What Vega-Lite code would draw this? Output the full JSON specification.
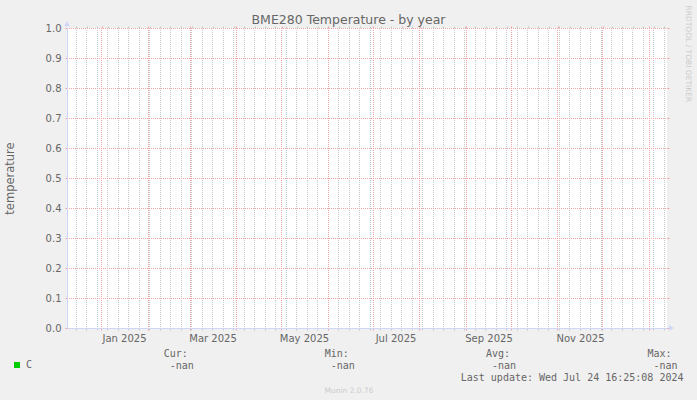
{
  "$schema": "https://vega.github.io/schema/vega-lite/v6.json",
  "width": 600,
  "height": 300,
  "autosize": {"type": "none"},
  "padding": {"left": 67, "top": 28, "right": 30, "bottom": 72},
  "background": "#f0f0f0",
  "config": {"view": {"fill": "#ffffff", "stroke": null}, "font": "DejaVu Sans"},
  "title": {"text": "BME280 Temperature - by year", "anchor": "middle", "dx": -18.5, "dy": 35, "offset": 4, "font": "DejaVu Sans", "fontSize": 12.5, "fontWeight": "normal", "color": "#666666", "baseline": "alphabetic"},
  "data": {"values": [
    {"date": "2024-12-09", "series": "C", "temperature": null},
    {"date": "2026-01-13", "series": "C", "temperature": null}
  ]},
  "layer": [
    {
      "mark": {"type": "line", "strokeWidth": 1},
      "encoding": {
        "x": {"field": "date", "type": "temporal",
          "scale": {"type": "utc", "domain": [{"year": 2024, "month": 12, "date": 9, "utc": true}, {"year": 2026, "month": 1, "date": 13, "utc": true}], "nice": false},
          "axis": {"orient": "bottom", "values": [
              {"year": 2024, "month": 12, "date": 15, "utc": true},
              {"year": 2024, "month": 12, "date": 21, "hours": 16, "utc": true},
              {"year": 2024, "month": 12, "date": 29, "utc": true},
              {"year": 2025, "month": 1, "date": 4, "hours": 16, "utc": true},
              {"year": 2025, "month": 1, "date": 12, "utc": true},
              {"year": 2025, "month": 1, "date": 18, "hours": 16, "utc": true},
              {"year": 2025, "month": 1, "date": 26, "utc": true},
              {"year": 2025, "month": 2, "date": 1, "hours": 16, "utc": true},
              {"year": 2025, "month": 2, "date": 9, "utc": true},
              {"year": 2025, "month": 2, "date": 15, "hours": 16, "utc": true},
              {"year": 2025, "month": 2, "date": 23, "utc": true},
              {"year": 2025, "month": 3, "date": 1, "hours": 16, "utc": true},
              {"year": 2025, "month": 3, "date": 9, "utc": true},
              {"year": 2025, "month": 3, "date": 15, "hours": 16, "utc": true},
              {"year": 2025, "month": 3, "date": 23, "utc": true},
              {"year": 2025, "month": 3, "date": 29, "hours": 16, "utc": true},
              {"year": 2025, "month": 4, "date": 6, "utc": true},
              {"year": 2025, "month": 4, "date": 12, "hours": 16, "utc": true},
              {"year": 2025, "month": 4, "date": 20, "utc": true},
              {"year": 2025, "month": 4, "date": 26, "hours": 16, "utc": true},
              {"year": 2025, "month": 5, "date": 4, "utc": true},
              {"year": 2025, "month": 5, "date": 10, "hours": 16, "utc": true},
              {"year": 2025, "month": 5, "date": 18, "utc": true},
              {"year": 2025, "month": 5, "date": 24, "hours": 16, "utc": true},
              {"year": 2025, "month": 6, "date": 1, "utc": true},
              {"year": 2025, "month": 6, "date": 7, "hours": 16, "utc": true},
              {"year": 2025, "month": 6, "date": 15, "utc": true},
              {"year": 2025, "month": 6, "date": 21, "hours": 16, "utc": true},
              {"year": 2025, "month": 6, "date": 29, "utc": true},
              {"year": 2025, "month": 7, "date": 5, "hours": 16, "utc": true},
              {"year": 2025, "month": 7, "date": 13, "utc": true},
              {"year": 2025, "month": 7, "date": 19, "hours": 16, "utc": true},
              {"year": 2025, "month": 7, "date": 27, "utc": true},
              {"year": 2025, "month": 8, "date": 2, "hours": 16, "utc": true},
              {"year": 2025, "month": 8, "date": 10, "utc": true},
              {"year": 2025, "month": 8, "date": 16, "hours": 16, "utc": true},
              {"year": 2025, "month": 8, "date": 24, "utc": true},
              {"year": 2025, "month": 8, "date": 30, "hours": 16, "utc": true},
              {"year": 2025, "month": 9, "date": 7, "utc": true},
              {"year": 2025, "month": 9, "date": 13, "hours": 16, "utc": true},
              {"year": 2025, "month": 9, "date": 21, "utc": true},
              {"year": 2025, "month": 9, "date": 27, "hours": 16, "utc": true},
              {"year": 2025, "month": 10, "date": 5, "utc": true},
              {"year": 2025, "month": 10, "date": 11, "hours": 16, "utc": true},
              {"year": 2025, "month": 10, "date": 19, "utc": true},
              {"year": 2025, "month": 10, "date": 25, "hours": 16, "utc": true},
              {"year": 2025, "month": 11, "date": 2, "utc": true},
              {"year": 2025, "month": 11, "date": 8, "hours": 16, "utc": true},
              {"year": 2025, "month": 11, "date": 16, "utc": true},
              {"year": 2025, "month": 11, "date": 22, "hours": 16, "utc": true},
              {"year": 2025, "month": 11, "date": 30, "utc": true},
              {"year": 2025, "month": 12, "date": 6, "hours": 16, "utc": true},
              {"year": 2025, "month": 12, "date": 14, "utc": true},
              {"year": 2025, "month": 12, "date": 20, "hours": 16, "utc": true},
              {"year": 2025, "month": 12, "date": 28, "utc": true},
              {"year": 2026, "month": 1, "date": 3, "hours": 16, "utc": true},
              {"year": 2026, "month": 1, "date": 11, "utc": true}],
            "labels": false, "domain": false,
            "grid": true, "gridColor": "#c8c8c8", "gridDash": [1, 1], "gridDashOffset": 0.5, "gridWidth": 1,
            "ticks": true, "tickSize": 2, "tickColor": "#c8c8c8", "tickWidth": 1,
            "title": "Cur:", "titleX": 120.3, "titleY": 28, "titleAlign": "right", "titleBaseline": "alphabetic",
            "titleFont": "DejaVu Sans Mono", "titleFontSize": 10, "titleFontWeight": "normal", "titleColor": "#666666"}},
        "y": {"field": "temperature", "type": "quantitative",
          "scale": {"domain": [0, 1], "nice": false, "zero": false},
          "axis": {"orient": "left", "values": [0, 0.1, 0.2, 0.3, 0.4, 0.5, 0.6, 0.7, 0.8, 0.9, 1], "format": ".1f",
            "grid": true, "gridColor": "#f0a4a4", "gridDash": [1, 1], "gridDashOffset": 0.5, "gridWidth": 1,
            "ticks": true, "tickSize": 2, "tickColor": "#f0a4a4", "tickWidth": 1,
            "domain": true, "domainColor": "#cfd6f8", "domainWidth": 1,
            "labelFont": "DejaVu Sans", "labelFontSize": 10, "labelColor": "#666666", "labelPadding": 4,
            "title": "temperature", "titleFont": "DejaVu Sans", "titleFontSize": 11.5, "titleFontWeight": "normal", "titleColor": "#666666",
            "titleX": -53.7, "titleY": 150, "titleAngle": 270, "titleAlign": "center", "titleBaseline": "alphabetic"}},
        "color": {"field": "series", "type": "nominal",
          "scale": {"domain": ["C"], "range": ["#00cc00"]},
          "legend": {"orient": "none", "legendX": -55, "legendY": 332, "title": null, "padding": 0,
            "symbolType": "square", "symbolSize": 36, "labelFont": "DejaVu Sans Mono", "labelFontSize": 10, "labelColor": "#666666", "labelOffset": 4,
            "encode": {"symbols": {"update": {"fill": {"value": "#00cc00"}, "stroke": {"value": "#00cc00"}, "strokeWidth": {"value": 0}, "shape": {"value": "square"}, "size": {"value": 36}}}}}}
      }
    },
    {
      "mark": {"type": "line"},
      "encoding": {
        "x": {"field": "date", "type": "temporal",
          "scale": {"type": "utc", "domain": [{"year": 2024, "month": 12, "date": 9, "utc": true}, {"year": 2026, "month": 1, "date": 13, "utc": true}], "nice": false},
          "axis": {"orient": "bottom", "values": [
              {"year": 2024, "month": 12, "date": 31, "hours": 16, "utc": true},
              {"year": 2025, "month": 2, "date": 1, "utc": true},
              {"year": 2025, "month": 3, "date": 1, "utc": true},
              {"year": 2025, "month": 3, "date": 31, "hours": 16, "utc": true},
              {"year": 2025, "month": 4, "date": 30, "hours": 16, "utc": true},
              {"year": 2025, "month": 6, "date": 1, "utc": true},
              {"year": 2025, "month": 7, "date": 1, "utc": true},
              {"year": 2025, "month": 7, "date": 31, "hours": 16, "utc": true},
              {"year": 2025, "month": 9, "date": 1, "utc": true},
              {"year": 2025, "month": 10, "date": 1, "utc": true},
              {"year": 2025, "month": 10, "date": 31, "hours": 16, "utc": true},
              {"year": 2025, "month": 11, "date": 30, "hours": 16, "utc": true},
              {"year": 2026, "month": 1, "date": 1, "utc": true}],
            "labels": false, "domain": false,
            "grid": true, "gridColor": "#f0a4a4", "gridDash": [1, 1], "gridDashOffset": 0.5, "gridWidth": 1,
            "ticks": true, "tickSize": 2, "tickColor": "#f0a4a4", "tickWidth": 1,
            "title": "-nan", "titleX": 126.3, "titleY": 40, "titleAlign": "right", "titleBaseline": "alphabetic",
            "titleFont": "DejaVu Sans Mono", "titleFontSize": 10, "titleFontWeight": "normal", "titleColor": "#666666"}},
        "y": {"field": "temperature", "type": "quantitative",
          "scale": {"domain": [0, 1], "nice": false, "zero": false},
          "axis": {"orient": "right", "values": [0, 0.1, 0.2, 0.3, 0.4, 0.5, 0.6, 0.7, 0.8, 0.9, 1],
            "grid": false, "labels": false, "domain": false,
            "ticks": true, "tickSize": 2, "tickColor": "#f0a4a4", "tickWidth": 1,
            "title": "RRDTOOL / TOBI OETIKER", "titleFont": "DejaVu Sans", "titleFontSize": 7.5, "titleFontWeight": "normal", "titleColor": "#cccccc",
            "titleX": 20.5, "titleY": 25.3, "titleAngle": 90, "titleAlign": "center", "titleBaseline": "middle"}}
      }
    },
    {
      "mark": {"type": "line"},
      "encoding": {
        "x": {"field": "date", "type": "temporal",
          "scale": {"type": "utc", "domain": [{"year": 2024, "month": 12, "date": 9, "utc": true}, {"year": 2026, "month": 1, "date": 13, "utc": true}], "nice": false},
          "axis": {"orient": "top", "tickCount": {"interval": "week", "step": 1}, "labels": false, "domain": false, "grid": false,
            "ticks": true, "tickSize": 2, "tickColor": "#c8c8c8", "tickWidth": 1,
            "title": "Min:", "titleX": 281.4, "titleY": 328, "titleAlign": "right", "titleBaseline": "alphabetic",
            "titleFont": "DejaVu Sans Mono", "titleFontSize": 10, "titleFontWeight": "normal", "titleColor": "#666666"}},
        "y": {"field": "temperature", "type": "quantitative", "scale": {"domain": [0, 1], "nice": false, "zero": false},
          "axis": {"orient": "left", "labels": false, "ticks": false, "domain": false, "grid": false,
            "title": "-nan", "titleX": 287.4, "titleY": 340, "titleAngle": 0, "titleAlign": "right", "titleBaseline": "alphabetic",
            "titleFont": "DejaVu Sans Mono", "titleFontSize": 10, "titleFontWeight": "normal", "titleColor": "#666666"}}
      }
    },
    {
      "mark": {"type": "line"},
      "encoding": {
        "x": {"field": "date", "type": "temporal",
          "scale": {"type": "utc", "domain": [{"year": 2024, "month": 12, "date": 9, "utc": true}, {"year": 2026, "month": 1, "date": 13, "utc": true}], "nice": false},
          "axis": {"orient": "top", "tickCount": {"interval": "month", "step": 1}, "labels": false, "domain": false, "grid": false,
            "ticks": true, "tickSize": 2, "tickColor": "#f0a4a4", "tickWidth": 1,
            "title": "Avg:", "titleX": 442.5, "titleY": 328, "titleAlign": "right", "titleBaseline": "alphabetic",
            "titleFont": "DejaVu Sans Mono", "titleFontSize": 10, "titleFontWeight": "normal", "titleColor": "#666666"}},
        "y": {"field": "temperature", "type": "quantitative", "scale": {"domain": [0, 1], "nice": false, "zero": false},
          "axis": {"orient": "left", "labels": false, "ticks": false, "domain": false, "grid": false,
            "title": "-nan", "titleX": 448.5, "titleY": 340, "titleAngle": 0, "titleAlign": "right", "titleBaseline": "alphabetic",
            "titleFont": "DejaVu Sans Mono", "titleFontSize": 10, "titleFontWeight": "normal", "titleColor": "#666666"}}
      }
    },
    {
      "mark": {"type": "line"},
      "encoding": {
        "x": {"field": "date", "type": "temporal",
          "scale": {"type": "utc", "domain": [{"year": 2024, "month": 12, "date": 9, "utc": true}, {"year": 2026, "month": 1, "date": 13, "utc": true}], "nice": false},
          "axis": {"orient": "bottom", "values": [
              {"year": 2025, "month": 1, "date": 16, "utc": true},
              {"year": 2025, "month": 3, "date": 16, "utc": true},
              {"year": 2025, "month": 5, "date": 16, "utc": true},
              {"year": 2025, "month": 7, "date": 16, "utc": true},
              {"year": 2025, "month": 9, "date": 16, "utc": true},
              {"year": 2025, "month": 11, "date": 16, "utc": true}],
            "format": "%b %Y", "grid": false, "ticks": false, "tickSize": 0,
            "domain": true, "domainColor": "#cfd6f8", "domainWidth": 1,
            "labelFont": "DejaVu Sans", "labelFontSize": 10, "labelColor": "#666666", "labelPadding": 13, "labelBaseline": "alphabetic", "labelAlign": "center", "labelFlush": false, "labelOverlap": false,
            "title": "Munin 2.0.76", "titleX": 281.5, "titleY": 64, "titleAlign": "center", "titleBaseline": "alphabetic",
            "titleFont": "DejaVu Sans", "titleFontSize": 7.5, "titleFontWeight": "normal", "titleColor": "#cccccc"}},
        "y": {"field": "temperature", "type": "quantitative", "scale": {"domain": [0, 1], "nice": false, "zero": false},
          "axis": {"orient": "left", "labels": false, "ticks": false, "domain": false, "grid": false,
            "title": "Max:", "titleX": 604, "titleY": 328, "titleAngle": 0, "titleAlign": "right", "titleBaseline": "alphabetic",
            "titleFont": "DejaVu Sans Mono", "titleFontSize": 10, "titleFontWeight": "normal", "titleColor": "#666666"}}
      }
    },
    {
      "mark": {"type": "line"},
      "encoding": {
        "x": {"field": "date", "type": "temporal",
          "scale": {"type": "utc", "domain": [{"year": 2024, "month": 12, "date": 9, "utc": true}, {"year": 2026, "month": 1, "date": 13, "utc": true}], "nice": false},
          "axis": {"orient": "bottom", "labels": false, "ticks": false, "domain": false, "grid": false,
            "title": "-nan", "titleX": 610, "titleY": 40, "titleAlign": "right", "titleBaseline": "alphabetic",
            "titleFont": "DejaVu Sans Mono", "titleFontSize": 10, "titleFontWeight": "normal", "titleColor": "#666666"}},
        "y": {"field": "temperature", "type": "quantitative", "scale": {"domain": [0, 1], "nice": false, "zero": false},
          "axis": {"orient": "left", "labels": false, "ticks": false, "domain": false, "grid": false,
            "title": "Last update: Wed Jul 24 16:25:08 2024", "titleX": 616, "titleY": 352, "titleAngle": 0, "titleAlign": "right", "titleBaseline": "alphabetic",
            "titleFont": "DejaVu Sans Mono", "titleFontSize": 10, "titleFontWeight": "normal", "titleColor": "#666666"}}
      }
    },
    {
      "data": {"values": [{"marker": "y-axis arrow"}]},
      "mark": {"type": "point", "shape": "triangle-up", "filled": true, "color": "#cfd6f8", "size": 32, "opacity": 1},
      "encoding": {
        "x": {"datum": {"year": 2024, "month": 12, "date": 9, "utc": true}, "type": "temporal",
          "scale": {"type": "utc", "domain": [{"year": 2024, "month": 12, "date": 9, "utc": true}, {"year": 2026, "month": 1, "date": 13, "utc": true}], "nice": false}, "axis": null},
        "y": {"datum": 1.0143, "type": "quantitative", "scale": {"domain": [0, 1], "nice": false, "zero": false}, "axis": null}
      }
    },
    {
      "data": {"values": [{"marker": "x-axis arrow"}]},
      "mark": {"type": "point", "shape": "triangle-right", "filled": true, "color": "#cfd6f8", "size": 32, "opacity": 1},
      "encoding": {
        "x": {"datum": {"year": 2026, "month": 1, "date": 16, "utc": true}, "type": "temporal",
          "scale": {"type": "utc", "domain": [{"year": 2024, "month": 12, "date": 9, "utc": true}, {"year": 2026, "month": 1, "date": 13, "utc": true}], "nice": false}, "axis": null},
        "y": {"datum": 0, "type": "quantitative", "scale": {"domain": [0, 1], "nice": false, "zero": false}, "axis": null}
      }
    }
  ],
  "resolve": {"axis": {"x": "independent", "y": "independent"}}
}
